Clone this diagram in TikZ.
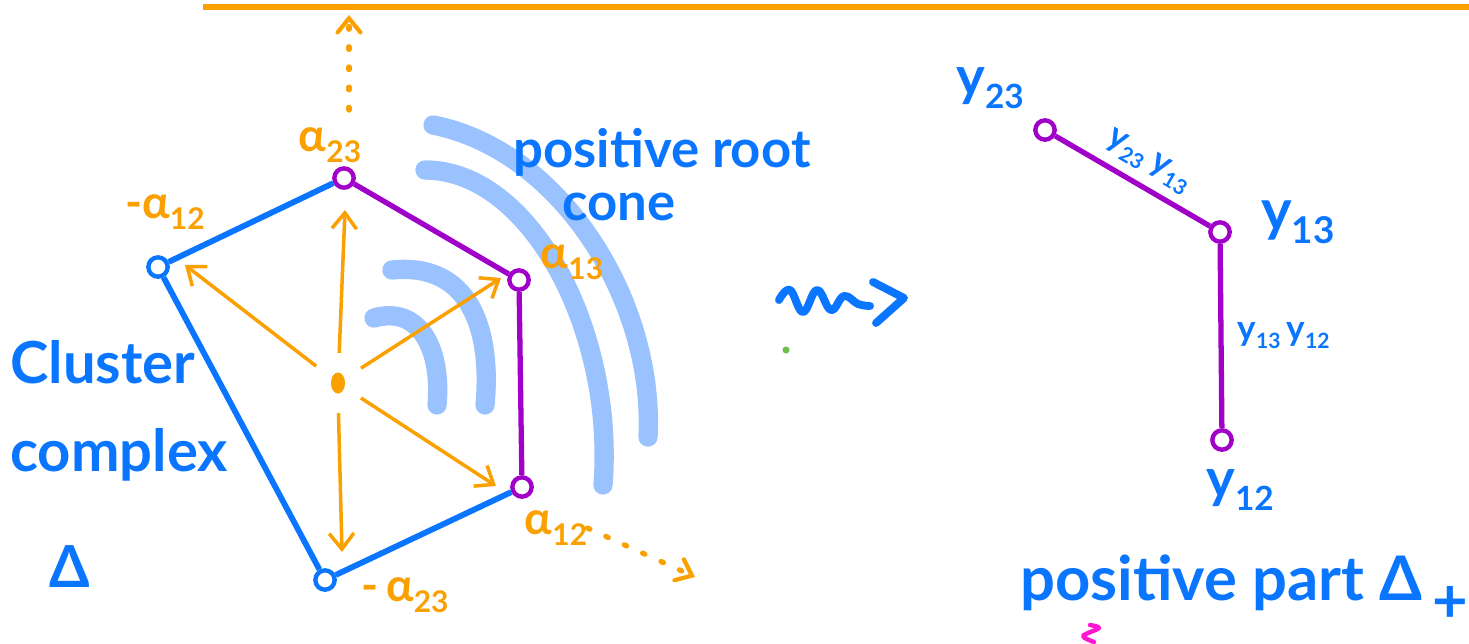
\documentclass[tikz,border=0pt]{standalone}
\usepackage{fontspec}
\setmainfont{Lato}
\usetikzlibrary{arrows.meta,shapes.geometric}
\definecolor{inkblue}{RGB}{10,118,255}
\definecolor{inkorange}{RGB}{250,160,0}
\definecolor{inkpurple}{RGB}{160,0,200}
\definecolor{haze}{RGB}{153,194,255}
\definecolor{inkgreen}{RGB}{108,192,74}
\definecolor{inkpink}{RGB}{255,20,210}
% alpha / y with a lowered, smaller index
\newcommand\rootlbl[1]{α\raisebox{-0.45ex}{\fontsize{17}{17}\selectfont #1}}
\newcommand\ylbl[2]{y\raisebox{-0.45ex}{\fontsize{#2}{#2}\selectfont #1}}
\begin{document}
\begin{tikzpicture}[x=0.02cm,y=-0.02cm,
  edgeb/.style={draw=inkblue,line width=3.3pt},
  edgep/.style={draw=inkpurple,line width=3pt},
  vtxb/.style={circle,draw=inkblue,line width=2.5pt,minimum size=11pt,inner sep=0pt},
  vtxp/.style={circle,draw=inkpurple,line width=2.5pt,minimum size=11pt,inner sep=0pt},
  rootarrow/.style={draw=inkorange,line width=2pt,-{Straight Barb[length=9pt,width=14pt,line width=2pt]},shorten <=11pt},
  dotarrow/.style={draw=inkorange,line width=3pt,line cap=round,dash pattern=on 1.5pt off 10pt,
    -{Straight Barb[length=8pt,width=13pt,line width=2.4pt,line cap=round]}},
  albl/.style={text=inkorange,font=\bfseries\fontsize{26}{28}\selectfont,inner sep=0pt},
  handtext/.style={text=inkblue,inner sep=0pt,align=left},
  edgelbl/.style={text=inkblue,font=\bfseries\fontsize{20}{20}\selectfont,inner sep=0pt},
  cone/.style={draw=haze,line width=11pt,line cap=round}
]
\useasboundingbox (0,0) rectangle (1469,643);

% horizontal rule at the top
\draw[inkorange,line width=3pt] (203,7) -- (1469,7);

% positive root cone shading
\draw[cone] (374,318) .. controls (420,305) and (442,350) .. (437,405);
\draw[cone] (392,270) .. controls (470,262) and (492,330) .. (485,405);
\draw[cone] (433,125) .. controls (560,150) and (655,300) .. (648,437);
\draw[cone] (425,170) .. controls (530,170) and (615,330) .. (603,485);

% cluster complex vertices
\node[vtxb] (m12) at (158,267) {};
\node[vtxp] (a23) at (344,178) {};
\node[vtxp] (a13) at (519,280) {};
\node[vtxp] (a12) at (522,487) {};
\node[vtxb] (m23) at (325,580) {};

\draw[edgeb] (m12) -- (a23);
\draw[edgeb] (m12) -- (m23);
\draw[edgeb] (m23) -- (a12);
\draw[edgep] (a23) -- (a13);
\draw[edgep] (a13) -- (a12);

% root vectors from the origin
\node[fill=inkorange,ellipse,minimum width=8pt,minimum height=12pt,inner sep=0pt] (o) at (338,383) {};
\coordinate (tipup) at (345,210);
\coordinate (tipul) at (185,265);
\coordinate (tipur) at (501,278);
\coordinate (tipdr) at (496,486);
\coordinate (tipdn) at (342,552);
\draw[rootarrow] (o) -- (tipul);
\draw[rootarrow] (o) -- (tipup);
\draw[rootarrow] (o) -- (tipur);
\draw[rootarrow] (o) -- (tipdr);
\draw[rootarrow] (o.south) -- (tipdn);

% root labels
\node[albl] (la23) at (330,145) {\rootlbl{23}};
\node[albl] (lm12) at (165,212) {-\rootlbl{12}};
\node[albl] (la13) at (572,262) {\rootlbl{13}};
\node[albl] (la12) at (556,528) {\rootlbl{12}};
\node[albl] (lm23) at (405,595) {-\,\rootlbl{23}};

% dotted directions
\coordinate (uptop) at (349,15);
\coordinate (rtend) at (695,577);
\draw[dotarrow] (349,110) -- (uptop);
\draw[dotarrow] (la12.east) -- (rtend);

% captions
\node[handtext,font=\bfseries\fontsize{30}{34}\selectfont,anchor=north west] (pcone) at (513,128) {positive root\\[-4pt]\hspace*{28pt}cone};
\node[handtext,font=\bfseries\fontsize{33}{40}\selectfont,anchor=north west] (cc) at (10,340) {Cluster\\[10pt]complex\\[26pt]\hspace*{22pt}Δ};

% squiggly arrow between the two pictures
\draw[inkblue,line width=4.5pt,line cap=round,line join=round]
  plot[smooth,tension=0.7] coordinates {(779,300) (790,290) (803,312) (817,290) (831,310) (844,296) (858,304) (870,306)};
\draw[inkblue,line width=4.5pt,line cap=round,line join=round] (873,282) -- (904,298) -- (876,323);
\node[circle,fill=inkgreen,inner sep=0pt,minimum size=4pt] (gdot) at (786,350) {};

% positive part
\node[vtxp] (y23v) at (1045,130) {};
\node[vtxp] (y13v) at (1220,232) {};
\node[vtxp] (y12v) at (1222,440) {};
\draw[edgep] (y23v) -- node[pos=0.38,above=5pt,sloped,edgelbl] (e1a) {\ylbl{23}{12}}
                       node[pos=0.66,above=5pt,sloped,edgelbl] (e1b) {\ylbl{13}{12}} (y13v);
\draw[edgep] (y13v) -- node[midway,right=8pt,edgelbl] (e2) {\ylbl{13}{12}\,\ylbl{12}{12}} (y12v);
\node[handtext,font=\bfseries\fontsize{31}{31}\selectfont] (ly23) at (990,88) {\ylbl{23}{19}};
\node[handtext,font=\bfseries\fontsize{33}{33}\selectfont] (ly13) at (1298,222) {\ylbl{13}{21}};
\node[handtext,font=\bfseries\fontsize{31}{31}\selectfont] (ly12) at (1240,490) {\ylbl{12}{19}};

\node[handtext,font=\bfseries\fontsize{35}{36}\selectfont,anchor=base west] (ppart) at (1020,600) {positive part Δ\raisebox{-0.7ex}{\,+}};

% stray pink mark
\draw[inkpink,line width=2.5pt,line cap=round,line join=round]
  plot[smooth] coordinates {(1090,625) (1099,628) (1083,636) (1094,642)};
\end{tikzpicture}
\end{document}
